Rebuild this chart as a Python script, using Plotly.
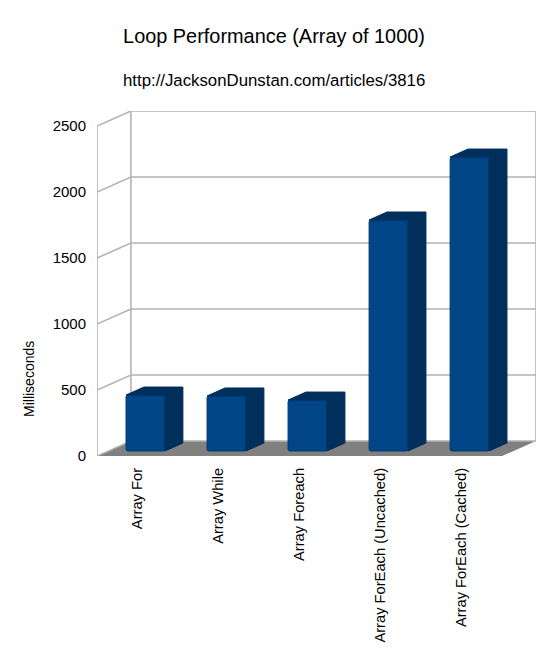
# Loop performance chart, fake 3D bars built from scatter polygons
import plotly.graph_objects as go

# Data
categories = ["Array For", "Array While", "Array Foreach",
              "Array ForEach (Uncached)", "Array ForEach (Cached)"]
milliseconds = [424, 417, 386, 1750, 2227]
y_ticks = [0, 500, 1000, 1500, 2000, 2500]

# Oblique projection, in axis units (1 x unit = 81.2px, 1 y unit = 0.132px)
x_px = 81.2
y_px = 0.132
wall_dx = 34 / x_px
wall_dy = 15 / y_px
bar_shift_x = 8 / x_px
bar_base = 5 / y_px
bar_width = 39 / x_px
bar_dx = 18 / x_px
bar_dy = 8 / y_px

grid_color = "#b3b3b3"
front_color = "#004586"
dark_color = "#002f5c"

x_left = -0.5
x_right = len(categories) - 0.5
positions = list(range(len(categories)))

fig = go.Figure()

# Floor
fig.add_trace(go.Scatter(
    x=[x_left, x_right, x_right + wall_dx, x_left + wall_dx, x_left],
    y=[0, 0, wall_dy, wall_dy, 0],
    mode="lines", fill="toself", fillcolor="#808080", line=dict(width=0),
    hoverinfo="skip", showlegend=False, zorder=0))

# Walls and gridlines
grid_x = [x_left, x_left, None, x_left + wall_dx, x_left + wall_dx, None,
          x_right + wall_dx, x_right + wall_dx, None]
grid_y = [0, y_ticks[-1], None, wall_dy, y_ticks[-1] + wall_dy, None,
          wall_dy, y_ticks[-1] + wall_dy, None]
for t in y_ticks:
    grid_x += [x_left, x_left + wall_dx, x_right + wall_dx, None]
    grid_y += [t, t + wall_dy, t + wall_dy, None]
fig.add_trace(go.Scatter(
    x=grid_x, y=grid_y, mode="lines", line=dict(color=grid_color, width=1.6),
    hoverinfo="skip", showlegend=False, zorder=0))

# Front faces
fig.add_trace(go.Bar(
    x=[p + bar_shift_x for p in positions], y=milliseconds, base=bar_base,
    width=bar_width, marker=dict(color=front_color, cornerradius=2,
                                 line=dict(color="#003a72", width=1)),
    hovertext=categories, showlegend=False, zorder=1))

# Side and top faces
for p, v in zip(positions, milliseconds):
    x0 = p + bar_shift_x - bar_width / 2
    x1 = p + bar_shift_x + bar_width / 2
    top = v + bar_base
    fig.add_trace(go.Scatter(
        x=[x1, x1 + bar_dx, x1 + bar_dx, x0 + bar_dx, x0, x1, x1],
        y=[bar_base, bar_base + bar_dy, top + bar_dy, top + bar_dy, top, top, bar_base],
        mode="lines", fill="toself", fillcolor=dark_color,
        line=dict(color=dark_color, width=1),
        hoverinfo="skip", showlegend=False, zorder=1))

fig.update_layout(
    width=550, height=660, autosize=False,
    margin=dict(l=97, r=14, t=111, b=204),
    paper_bgcolor="white", plot_bgcolor="white",
    font=dict(family="Liberation Sans", size=15, color="black"),
    title=dict(text="Loop Performance (Array of 1000)", font=dict(size=19.9),
               x=274 / 550, xanchor="center", y=1 - 36 / 660, yanchor="middle"),
    annotations=[
        dict(text="http://JacksonDunstan.com/articles/3816",
             xref="paper", yref="paper", x=177 / 439, y=1 + 31 / 345,
             xanchor="center", yanchor="middle", showarrow=False,
             font=dict(size=16.8)),
        dict(text="Milliseconds", xref="paper", yref="paper",
             x=-68 / 439, y=(455 - 378) / 345, xanchor="center", yanchor="middle",
             textangle=-90, showarrow=False, font=dict(size=14)),
    ],
    xaxis=dict(range=[x_left, x_right + wall_dx], tickvals=positions, ticktext=categories,
               tickangle=-90, showgrid=False, zeroline=False, showline=False,
               ticks="", ticklabelstandoff=8, tickfont=dict(size=14.7)),
    yaxis=dict(range=[0, y_ticks[-1] + wall_dy], tickvals=y_ticks, showgrid=False,
               zeroline=False, showline=False, ticks="", ticklabelstandoff=10),
)

fig.write_html("out.html", config={"displayModeBar": False},
               post_script="document.body.style.margin='0';")
